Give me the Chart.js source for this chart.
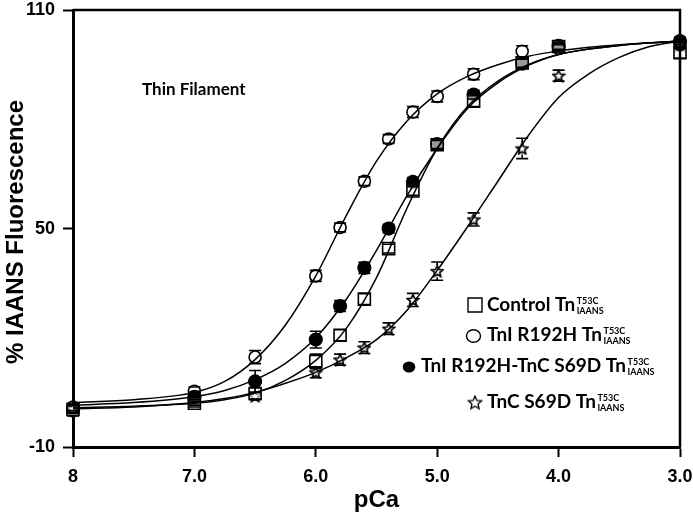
<!DOCTYPE html>
<html>
<head>
<meta charset="utf-8">
<script src="https://cdn.jsdelivr.net/npm/chart.js@4.4.1/dist/chart.umd.min.js"></script>
<style>
  html, body { margin: 0; padding: 0; background: #fff; }
  #wrap { width: 693px; height: 518px; position: relative; }
</style>
</head>
<body>
<div id="wrap"><canvas id="chart"></canvas></div>
<script>
// measured points, pCa on x
const pca = [8, 7, 6.5, 6, 5.8, 5.6, 5.4, 5.2, 5, 4.7, 4.3, 4, 3];
const control    = [0.3, 2, 4.7, 13.5, 20.7, 30.6, 44.5, 60.3, 73, 85, 95.5, 100, 98.3];
const controlErr = [1, 1, 1.5, 2, 1.5, 1.5, 1.2, 1.2, 1.2, 1.5, 1.2, 1, 1.5];
const r192h      = [1, 5.3, 14.7, 37, 50.3, 63, 74.6, 82, 86.3, 92.4, 98.7, 99.5, 100.5];
const r192hErr   = [1, 1.2, 1.8, 1.5, 1.2, 1.2, 1.2, 1.5, 1.5, 1.5, 1.5, 1, 1];
const r192hS69d    = [0, 3.8, 8, 19.5, 28.7, 39.2, 50, 62.8, 73.2, 86.8, 95.3, 100.2, 101.5];
const r192hS69dErr = [1.5, 1.2, 3, 2.3, 1.5, 1.5, 1.2, 1.2, 1.2, 1.2, 1.2, 1, 1];
const s69d       = [0.5, 2.5, 4, 10.5, 14, 17.3, 22.5, 30.4, 38.3, 52.5, 72, 92, 100.5];
const s69dErr    = [1, 1, 1, 1.5, 1.5, 1.6, 1.6, 1.8, 2.5, 1.8, 2.8, 1.5, 1];

// fitted curves
const curvePca = [8, 7.5, 7, 6.75, 6.5, 6.25, 6, 5.75, 5.5, 5.25, 5, 4.75, 4.5, 4.25, 4, 3.75, 3.5, 3.25, 3];
const controlFit   = [0.8, 1.2, 2, 3, 4.8, 8.3, 13.8, 22.5, 36.5, 55.5, 72, 83.5, 90.5, 95, 97.8, 99.3, 100.3, 101, 101.5];
const r192hFit     = [2.2, 3, 5, 8, 14, 23.5, 37, 53.5, 68.5, 79.5, 87, 91.8, 95, 97.3, 98.8, 99.8, 100.5, 101, 101.5];
const r192hS69dFit = [1.5, 2.2, 3.8, 5.5, 8.5, 13, 20, 30.5, 44, 59, 72, 83, 90, 94.8, 97.8, 99.3, 100.3, 101, 101.5];
const s69dFit      = [0.5, 1, 2.2, 3.3, 5, 7.5, 10.5, 14.5, 19.5, 27.5, 38.5, 50.5, 63, 75.5, 86, 92.5, 97, 100, 101.5];

const xTicks = [8, 7, 6, 5, 4, 3];
const xTickLabels = ['8', '7.0', '6.0', '5.0', '4.0', '3.0'];
const yTicks = [-10, 50, 110];

const legendNames = ['Control Tn', 'TnI R192H Tn', 'TnI R192H-TnC S69D Tn', 'TnC S69D Tn'];

function starImage(size, lw) {
	const c = document.createElement('canvas');
	c.width = c.height = size;
	const g = c.getContext('2d');
	const r = size / 2 - 1, ri = r * 0.45, cx = size / 2, cy = size / 2 + 0.5;
	g.beginPath();
	for (let k = 0; k < 10; k++) {
		const a = -Math.PI / 2 + k * Math.PI / 5;
		const rr = k % 2 ? ri : r;
		g.lineTo(cx + rr * Math.cos(a), cy + rr * Math.sin(a));
	}
	g.closePath();
	g.fillStyle = '#fff';
	g.fill();
	g.lineWidth = lw;
	g.strokeStyle = '#000';
	g.stroke();
	return c;
}
const star = starImage(14, 1.7);
const bigStar = starImage(16, 1.3);

const pts = (xs, ys) => xs.map((x, i) => ({x: x, y: ys[i]}));

function fitLine(ys) {
	return {
		data: pts(curvePca, ys), showLine: true, pointRadius: 0,
		borderColor: '#000', borderWidth: 1.5, cubicInterpolationMode: 'monotone'
	};
}
function marks(ys, errs, style, radius, fill) {
	return {
		data: pts(pca, ys), errors: errs, showLine: false, clip: false,
		pointStyle: style, pointRadius: radius, pointHoverRadius: radius,
		pointBorderWidth: 1.6, borderColor: '#000', backgroundColor: fill
	};
}

const errorBars = {
	id: 'errorBars',
	afterDatasetsDraw(chart) {
		const {ctx, scales: {x, y}} = chart;
		ctx.save();
		ctx.strokeStyle = '#000';
		ctx.lineWidth = 1.6;
		chart.data.datasets.forEach(ds => {
			if (!ds.errors) return;
			ds.data.forEach((p, i) => {
				const px = x.getPixelForValue(p.x);
				const py = y.getPixelForValue(p.y);
				const hi = y.getPixelForValue(p.y + ds.errors[i]);
				const lo = y.getPixelForValue(p.y - ds.errors[i]);
				ctx.beginPath();
				if (py - hi > 6) { ctx.moveTo(px, py - 6); ctx.lineTo(px, hi); }
				if (lo - py > 6) { ctx.moveTo(px, py + 6); ctx.lineTo(px, lo); }
				ctx.moveTo(px - 6, hi); ctx.lineTo(px + 6, hi);
				ctx.moveTo(px - 6, lo); ctx.lineTo(px + 6, lo);
				ctx.stroke();
			});
		});
		ctx.restore();
	}
};

const decorations = {
	id: 'decorations',
	afterDraw(chart) {
		const {ctx, chartArea: a} = chart;
		ctx.save();
		// frame top and right
		ctx.strokeStyle = '#000';
		ctx.lineWidth = 2.5;
		ctx.beginPath();
		ctx.moveTo(a.left, a.top); ctx.lineTo(a.right, a.top); ctx.lineTo(a.right, a.bottom);
		ctx.stroke();

		ctx.fillStyle = '#000';
		ctx.font = 'bold 24px "Liberation Sans", Arial, sans-serif';
		ctx.textAlign = 'center';
		ctx.textBaseline = 'alphabetic';
		ctx.fillText('pCa', (a.left + a.right) / 2, 507);
		ctx.save();
		ctx.translate(23, 232);
		ctx.rotate(-Math.PI / 2);
		ctx.fillText('% IAANS Fluorescence', 0, 0);
		ctx.restore();

		ctx.textAlign = 'left';
		ctx.font = 'bold 17px Lato, sans-serif';
		ctx.fillText('Thin Filament', 142, 95);

		// legend
		const rows = [
			{mx: 475, my: 305, tx: 487, ty: 311},
			{mx: 473.5, my: 336, tx: 487, ty: 341},
			{mx: 409, my: 367, tx: 421, ty: 372},
			{mx: 475, my: 402.5, tx: 487, ty: 408}
		];
		ctx.lineWidth = 1.4;
		rows.forEach((r, i) => {
			ctx.beginPath();
			if (i === 0) {
				ctx.rect(r.mx - 7, r.my - 7, 14, 14);
				ctx.stroke();
			} else if (i === 1) {
				ctx.ellipse(r.mx, r.my, 7, 6.3, 0, 0, Math.PI * 2);
				ctx.stroke();
			} else if (i === 2) {
				ctx.ellipse(r.mx, r.my, 6.3, 5.5, 0, 0, Math.PI * 2);
				ctx.fill();
			} else {
				ctx.drawImage(bigStar, r.mx - 8, r.my - 8);
			}
			ctx.font = 'bold 19px Lato, sans-serif';
			ctx.fillText(legendNames[i], r.tx, r.ty);
			const sx = r.tx + ctx.measureText(legendNames[i]).width + 1.5;
			ctx.font = 'bold 9px Lato, sans-serif';
			ctx.fillText('T53C', sx, r.ty - 7);
			ctx.fillText('IAANS', sx, r.ty + 3);
		});
		ctx.restore();
	}
};

const tickFont = {family: '"Liberation Sans", Arial, sans-serif', size: 18, weight: 'bold'};

new Chart(document.getElementById('chart'), {
	type: 'scatter',
	data: {
		datasets: [
			fitLine(controlFit),
			fitLine(r192hFit),
			fitLine(r192hS69dFit),
			fitLine(s69dFit),
			marks(r192h, r192hErr, 'circle', 6, 'rgba(0,0,0,0)'),
			marks(control, controlErr, 'rect', 8.5, 'rgba(255,255,255,0.6)'),
			marks(s69d, s69dErr, star, 6, '#fff'),
			marks(r192hS69d, r192hS69dErr, 'circle', 6.3, '#000')
		]
	},
	options: {
		responsive: true,
		maintainAspectRatio: false,
		animation: false,
		layout: {padding: {left: 0, right: 13, top: 7, bottom: 0}},
		plugins: {legend: {display: false}, tooltip: {enabled: false}},
		scales: {
			x: {
				type: 'linear', reverse: true, min: 3, max: 8,
				afterBuildTicks: s => { s.ticks = xTicks.map(v => ({value: v})); },
				afterFit: s => { s.height = 71; s.paddingLeft = 0; s.paddingRight = 0; },
				ticks: {
					font: tickFont, color: '#000', padding: 9, maxRotation: 0,
					callback: v => xTickLabels[xTicks.indexOf(v)]
				},
				grid: {drawOnChartArea: false, tickLength: 10, tickWidth: 2, tickColor: '#000'},
				border: {display: true, color: '#000', width: 3}
			},
			y: {
				min: -10, max: 110,
				afterBuildTicks: s => { s.ticks = yTicks.map(v => ({value: v})); },
				afterFit: s => { s.width = 73; s.paddingTop = 0; s.paddingBottom = 0; },
				ticks: {font: tickFont, color: '#000', padding: 8},
				grid: {drawOnChartArea: false, tickLength: 10, tickWidth: 2, tickColor: '#000'},
				border: {display: true, color: '#000', width: 3}
			}
		}
	},
	plugins: [errorBars, decorations]
});
</script>
</body>
</html>
